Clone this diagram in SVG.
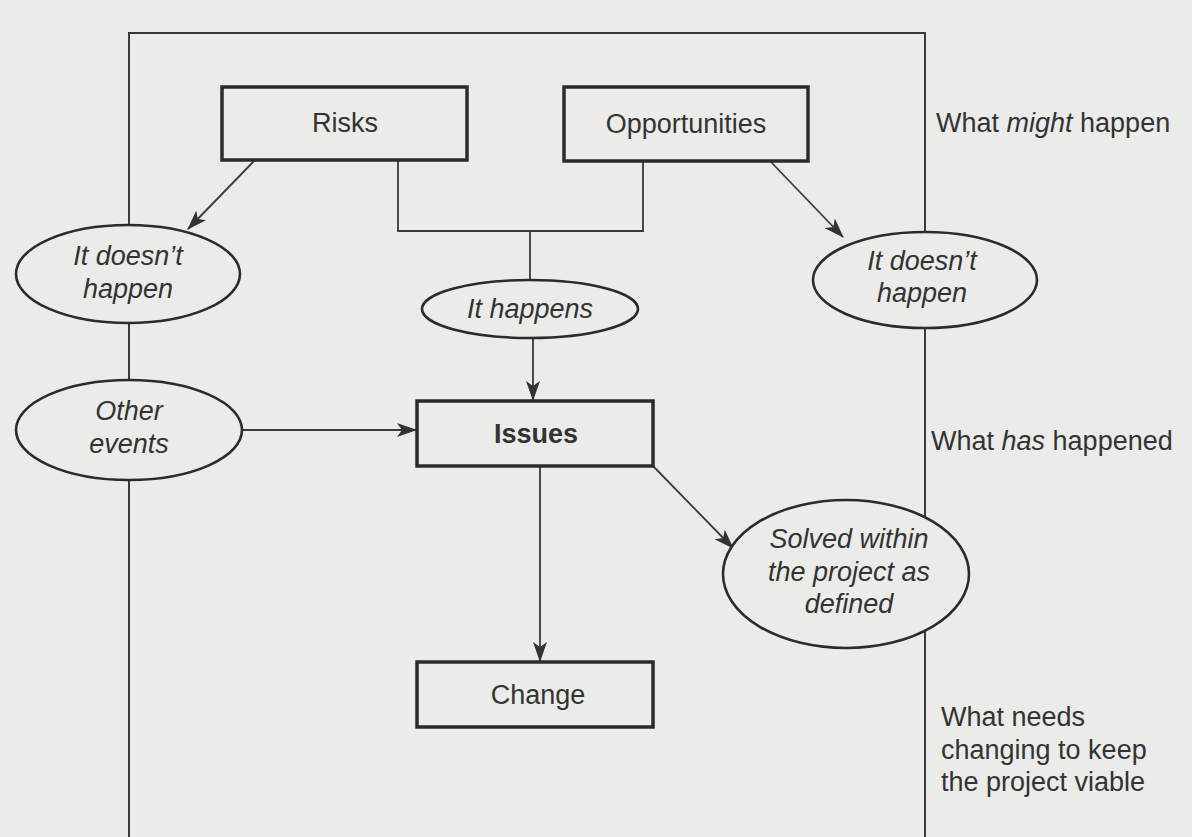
<svg xmlns="http://www.w3.org/2000/svg" width="1192" height="837" viewBox="0 0 1192 837">
<defs>
<marker id="ah" viewBox="0 0 20 14" refX="19" refY="7" markerWidth="20" markerHeight="14" markerUnits="userSpaceOnUse" orient="auto">
<path d="M0,0 L20,7 L0,14 L5,7 z" fill="#333"/>
</marker>
<style>
.box{fill:#ebebe9;stroke:#2b2b2b;stroke-width:3.5}
.ell{fill:#ebebe9;stroke:#2b2b2b;stroke-width:2.6}
.ln{fill:none;stroke:#3a3a3a;stroke-width:1.8}
.fr{fill:none;stroke:#3a3a3a;stroke-width:2}
.t{font-family:"Liberation Sans",Arial,sans-serif;font-size:27px;fill:#333;text-anchor:middle}
.i{font-style:italic}
.b{font-weight:bold}
.l{font-family:"Liberation Sans",Arial,sans-serif;font-size:27px;fill:#333}
</style>
</defs>
<rect width="1192" height="837" fill="#ebebe9"/>
<g id="connectors">
<path class="fr" d="M129,837 V33 H925 V837"/>
<path class="ln" d="M398,160 V231 H643 V161"/>
<path class="ln" d="M530,231 V281"/>
<path class="ln" d="M255,160 L188,229" marker-end="url(#ah)"/>
<path class="ln" d="M771,162 L843,237" marker-end="url(#ah)"/>
<path class="ln" d="M533,338 V400" marker-end="url(#ah)"/>
<path class="ln" d="M243,430 H416" marker-end="url(#ah)"/>
<path class="ln" d="M540,466 V661" marker-end="url(#ah)"/>
<path class="ln" d="M653,466 L733,548" marker-end="url(#ah)"/>
</g>
<g id="risks"><rect class="box" x="222" y="87" width="245" height="73"/><text class="t" x="345" y="132">Risks</text></g>
<g id="opportunities"><rect class="box" x="564" y="87" width="244" height="74"/><text class="t" x="686" y="133">Opportunities</text></g>
<g id="doesnt-left"><ellipse class="ell" cx="128" cy="274" rx="112" ry="49"/><text class="t i" x="128" y="265">It doesn’t</text><text class="t i" x="128" y="298">happen</text></g>
<g id="happens"><ellipse class="ell" cx="530" cy="309" rx="108" ry="29"/><text class="t i" x="530" y="318">It happens</text></g>
<g id="other"><ellipse class="ell" cx="129" cy="430" rx="113" ry="50"/><text class="t i" x="129" y="420">Other</text><text class="t i" x="129" y="453">events</text></g>
<g id="doesnt-right"><ellipse class="ell" cx="925" cy="280" rx="112" ry="48"/><text class="t i" x="922" y="270">It doesn’t</text><text class="t i" x="922" y="302">happen</text></g>
<g id="issues"><rect class="box" x="417" y="401" width="236" height="65"/><text class="t b" x="536" y="443">Issues</text></g>
<g id="solved"><ellipse class="ell" cx="846" cy="574" rx="123" ry="74"/><text class="t i" x="849" y="548">Solved within</text><text class="t i" x="849" y="581">the project as</text><text class="t i" x="849" y="613">defined</text></g>
<g id="change"><rect class="box" x="417" y="662" width="236" height="65"/><text class="t" x="538" y="704">Change</text></g>
<g id="labels">
<text class="l" x="936" y="132">What <tspan font-style="italic">might</tspan> happen</text>
<text class="l" x="931" y="450">What <tspan font-style="italic">has</tspan> happened</text>
<text class="l" x="941" y="726">What needs</text>
<text class="l" x="941" y="759">changing to keep</text>
<text class="l" x="941" y="791">the project viable</text>
</g>
</svg>
